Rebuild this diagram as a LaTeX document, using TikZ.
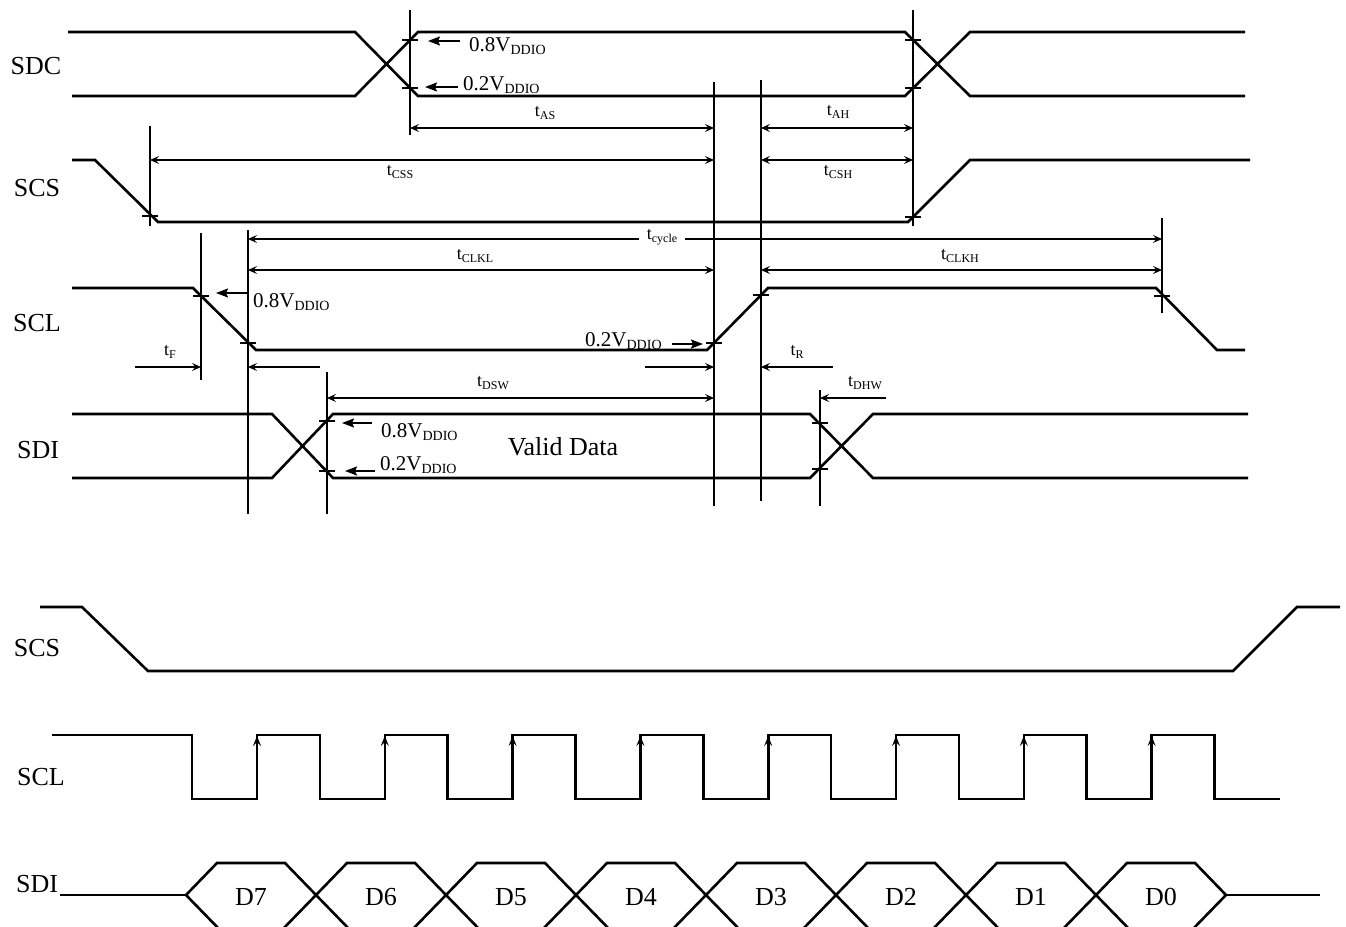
\documentclass[tikz,border=0pt]{standalone}
\usepackage{fontspec}
\setmainfont{Liberation Serif}
\usetikzlibrary{arrows.meta}
\newcommand\lbsub[1]{\raisebox{-3pt}{\fontsize{12}{12}\selectfont #1}}
\newcommand\vdd{V\raisebox{-3pt}{\fontsize{14}{14}\selectfont DDIO}}
\tikzset{
  dimtip/.tip={Stealth[length=9pt,width=8pt,inset=3.5pt]},
  voltip/.tip={Stealth[length=12pt,width=9pt,inset=2pt]},
  sig/.style={line width=2.6pt, line join=miter},
  guide/.style={line width=1.5pt},
  dim/.style={line width=1.1pt},
  dimboth/.style={dim, dimtip-dimtip},
  dimone/.style={dim, -dimtip},
  volt/.style={line width=1.8pt, -voltip},
  tick/.style={line width=1.4pt},
  siglab/.style={font=\fontsize{26}{30}\selectfont, inner sep=0pt},
  tlab/.style={font=\fontsize{18}{20}\selectfont, inner sep=0pt},
  vlab/.style={font=\fontsize{21}{24}\selectfont, inner sep=0pt, anchor=base west},
}
\begin{document}
\begin{tikzpicture}[x=1pt,y=-1pt]
\useasboundingbox (0,0) rectangle (1346,926);

% ---------- signal labels ----------
\node[siglab] (lsdc) at (36,66) {SDC};
\node[siglab] (lscs) at (37,188) {SCS};
\node[siglab] (lscl) at (37,323) {SCL};
\node[siglab] (lsdi) at (38,450) {SDI};
\node[siglab] (lscsb) at (37,648) {SCS};
\node[siglab] (lsclb) at (41,777) {SCL};
\node[siglab] (lsdib) at (37,884) {SDI};

% ---------- guide verticals ----------
\draw[guide] (410,10) -- (410,135);
\draw[guide] (913,10) -- (913,226);
\draw[guide] (714,82) -- (714,506);
\draw[guide] (761,80) -- (761,501);
\draw[guide] (150,126) -- (150,226);
\draw[guide] (201,233) -- (201,380);
\draw[guide] (248,230) -- (248,514);
\draw[guide] (327,372) -- (327,514);
\draw[guide] (820,390) -- (820,506);
\draw[guide] (1162,218) -- (1162,313);

% ---------- SDC ----------
\draw[sig] (68,32) -- (355,32) -- (418,96) -- (905,96) -- (970,32) -- (1245,32);
\draw[sig] (72,96) -- (355,96) -- (418,32) -- (905,32) -- (970,96) -- (1245,96);

% ---------- SCS ----------
\draw[sig] (72,160) -- (95,160) -- (158,222) -- (908,222) -- (970,160) -- (1250,160);

% ---------- SCL ----------
\draw[sig] (72,288) -- (193,288) -- (256,350) -- (707,350) -- (768,288) -- (1156,288) -- (1217,350) -- (1245,350);

% ---------- SDI ----------
\draw[sig] (72,414) -- (272,414) -- (333,478) -- (810,478) -- (873,414) -- (1248,414);
\draw[sig] (72,478) -- (272,478) -- (333,414) -- (810,414) -- (873,478) -- (1248,478);

% ---------- ticks ----------
\foreach \x/\y in {410/40, 410/88, 913/40, 913/88, 150/216, 913/217,
                   201/296, 248/343, 714/343, 761/295, 1162/296,
                   327/421, 327/471, 820/423, 820/469}
  \draw[tick] (\x-8,\y) -- (\x+8,\y);

% ---------- dimension arrows ----------
\draw[dimboth] (410,128) -- (714,128);
\node[tlab] (tas) at (545,113) {t\lbsub{AS}};
\draw[dimboth] (761,128) -- (913,128);
\node[tlab] (tah) at (838,112) {t\lbsub{AH}};
\draw[dimboth] (150,160) -- (714,160);
\node[tlab] (tcss) at (400,172) {t\lbsub{CSS}};
\draw[dimboth] (761,160) -- (913,160);
\node[tlab] (tcsh) at (838,172) {t\lbsub{CSH}};

\draw[dimboth] (248,239) -- (1162,239);
\node[tlab, fill=white, inner xsep=8pt, inner ysep=2pt] (tcyc) at (662,237) {t\lbsub{cycle}};

\draw[dimboth] (248,270) -- (714,270);
\node[tlab] (tclkl) at (475,256) {t\lbsub{CLKL}};
\draw[dimboth] (761,270) -- (1162,270);
\node[tlab] (tclkh) at (960,256) {t\lbsub{CLKH}};

\draw[dimone] (135,367) -- (201,367);
\node[tlab] (tf) at (170,352) {t\lbsub{F}};
\draw[dimone] (320,367) -- (248,367);
\draw[dimone] (645,367) -- (714,367);
\draw[dimone] (833,367) -- (761,367);
\node[tlab] (tr) at (797,352) {t\lbsub{R}};

\draw[dimboth] (327,398) -- (714,398);
\node[tlab] (tdsw) at (493,383) {t\lbsub{DSW}};
\draw[dimone] (886,398) -- (820,398);
\node[tlab] (tdhw) at (865,383) {t\lbsub{DHW}};

% ---------- voltage level markers ----------
\draw[volt] (460,41) -- (428,41);
\node[vlab] (v1) at (469,51) {0.8\vdd};
\draw[volt] (458,87) -- (425,87);
\node[vlab] (v2) at (463,90) {0.2\vdd};
\draw[volt] (247,293) -- (216,293);
\node[vlab] (v3) at (253,307) {0.8\vdd};
\node[vlab] (v4) at (585,346) {0.2\vdd};
\draw[volt] (672,344) -- (703,344);
\draw[volt] (372,423) -- (342,423);
\node[vlab] (v5) at (381,437) {0.8\vdd};
\draw[volt] (375,471) -- (345,471);
\node[vlab] (v6) at (380,470) {0.2\vdd};

\node[siglab] (valid) at (563,447) {Valid Data};

% ---------- bottom: SCS ----------
\draw[sig] (40,607) -- (82,607) -- (148,671) -- (1233,671) -- (1297,607) -- (1340,607);

% ---------- bottom: SCL ----------
\draw[sig] (52,735)
  \foreach \k in {0,...,7} { -- ({192+127.8*\k},735) -- ({192+127.8*\k},799) -- ({257+127.8*\k},799) -- ({257+127.8*\k},735) }
  -- (1214.4,735) -- (1214.4,799) -- (1280,799);
\foreach \k in {0,...,7}
  \draw[line width=1.2pt, -{Stealth[length=10pt,width=8pt,inset=4pt]}] ({257+127.8*\k},770) -- ({257+127.8*\k},736);

% ---------- bottom: SDI ----------
\draw[sig] (60,895) -- (186,895);
\draw[sig] (1226,895) -- (1320,895);
\foreach \k/\d in {0/D7,1/D6,2/D5,3/D4,4/D3,5/D2,6/D1,7/D0} {
  \draw[sig] ({186+130*\k},895) -- ({217+130*\k},863) -- ({285+130*\k},863) -- ({316+130*\k},895)
             -- ({280+130*\k},932) -- ({222+130*\k},932) -- cycle;
  \node[siglab] (d\k) at ({251+130*\k},897) {\d};
}
\end{tikzpicture}
\end{document}
